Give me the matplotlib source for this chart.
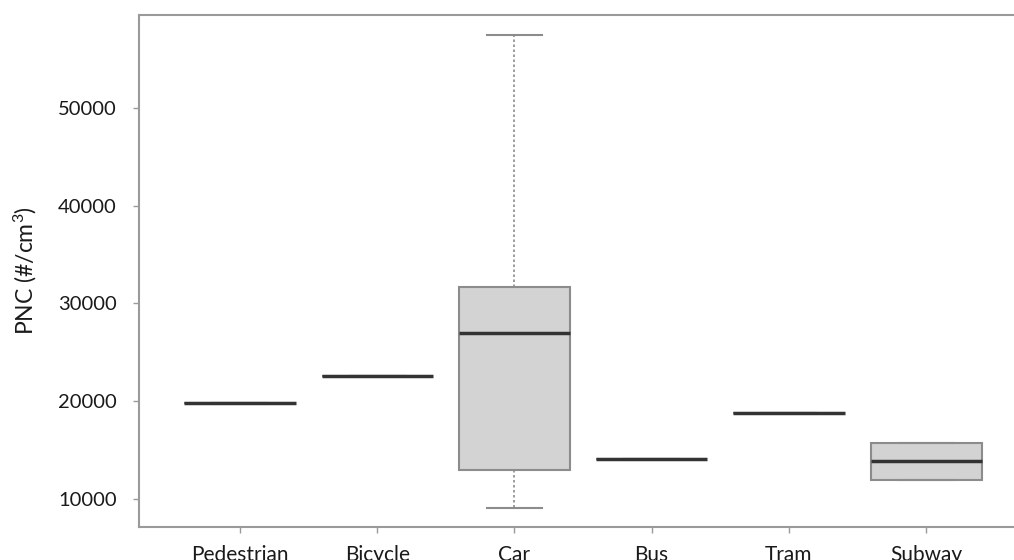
import matplotlib
matplotlib.use("Agg")
import matplotlib.pyplot as plt

plt.rcParams['font.family'] = ['Lato', 'DejaVu Sans']
plt.rcParams['mathtext.fontset'] = 'custom'
plt.rcParams['mathtext.rm'] = 'Lato'
plt.rcParams['mathtext.it'] = 'Lato'

categories = ["Pedestrian", "Bicycle", "Car", "Bus", "Tram", "Subway"]
q1 = [19800, 22600, 12950, 14050, 18780, 11950]
median = [19800, 22600, 27000, 14050, 18780, 13900]
q3 = [19800, 22600, 31700, 14050, 18780, 15730]
whislo = [19800, 22600, 9080, 14050, 18780, 11950]
whishi = [19800, 22600, 57500, 14050, 18780, 15730]
yticks = [10000, 20000, 30000, 40000, 50000]

fig = plt.figure(figsize=(10.14, 5.6), dpi=100)
ax = fig.add_axes([0.137, 0.059, 0.876, 0.914])

stats = []
for i, c in enumerate(categories):
    stats.append(dict(label=c, q1=q1[i], med=median[i], q3=q3[i],
                      whislo=whislo[i], whishi=whishi[i], fliers=[]))

gray = "#8c8c8c"
ax.bxp(stats, positions=range(1, len(categories) + 1), widths=0.81,
       showfliers=False, patch_artist=True,
       boxprops=dict(facecolor="#d3d3d3", edgecolor=gray, linewidth=1.5),
       medianprops=dict(color="#333333", linewidth=2.5, solid_capstyle="butt"),
       whiskerprops=dict(color=gray, linewidth=1.2, linestyle=(0, (1.5, 1.5))),
       capprops=dict(color=gray, linewidth=1.5),
       capwidths=0.4)

ax.set_xlim(0.264, 6.736)
ax.set_ylim(7135, 59500)
ax.set_yticks(yticks)
ax.set_yticklabels([str(v) for v in yticks])
ax.set_xticks(range(1, len(categories) + 1))
ax.set_xticklabels(categories)

for s in ["left", "bottom", "top", "right"]:
    ax.spines[s].set_color("#9a9a9a")
    ax.spines[s].set_linewidth(1.5)

ax.tick_params(axis="both", colors="#9a9a9a", length=4, width=1,
               labelcolor="#1a1a1a")
ax.tick_params(axis="y", pad=12, labelsize=14.5)
ax.tick_params(axis="x", pad=9, labelsize=15)

ax.set_ylabel(r"PNC (#/cm$^3$)", fontsize=16.5, color="#1a1a1a", labelpad=14)

fig.savefig("out.png", dpi=100)
